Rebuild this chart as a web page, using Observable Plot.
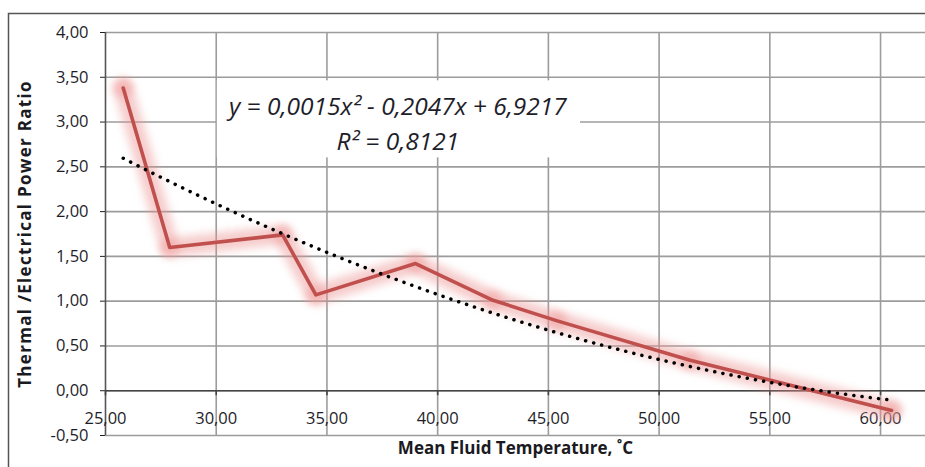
<!DOCTYPE html>
<html><head><meta charset="utf-8">
<script src="https://cdn.jsdelivr.net/npm/d3@7"></script>
<script src="https://cdn.jsdelivr.net/npm/@observablehq/plot@0.6"></script>
<style>
html,body{margin:0;padding:0;background:#fff;}
#chart{position:relative;width:925px;height:467px;overflow:hidden;}
</style>
</head><body><div id="chart"></div>
<script>
// ---- data ----
const temperature = [25.8, 27.9, 33.0, 34.5, 39.0, 42.5, 45.4, 51.4, 60.5];
const powerRatio  = [3.38, 1.60, 1.74, 1.07, 1.42, 1.01, 0.78, 0.34, -0.22];
const xTicks = [25, 30, 35, 40, 45, 50, 55, 60];
const yTicks = [-0.5, 0, 0.5, 1, 1.5, 2, 2.5, 3, 3.5, 4];
const xLabel = "Mean Fluid Temperature, ˚C";
const yLabel = "Thermal /Electrical Power Ratio";
const equationLines = ["y = 0,0015x² - 0,2047x + 6,9217", "R² = 0,8121"];

// annotation placement (data units)
const eqPos = {x: 38.2, y: 3.01};
const eqBox = {x1: 30.05, x2: 46.45, y1: 2.6, y2: 3.46};

const data = temperature.map((x, i) => ({x, y: powerRatio[i]}));

// second-order polynomial least-squares trendline (as the spreadsheet computes it)
function polyfit2(xs, ys) {
  const S = k => d3.sum(xs, x => Math.pow(x, k));
  const T = k => d3.sum(xs, (x, i) => Math.pow(x, k) * ys[i]);
  const A = [[S(0), S(1), S(2)], [S(1), S(2), S(3)], [S(2), S(3), S(4)]];
  const b = [T(0), T(1), T(2)];
  for (let i = 0; i < 3; i++) {
    for (let j = i + 1; j < 3; j++) {
      const f = A[j][i] / A[i][i];
      for (let k = i; k < 3; k++) A[j][k] -= f * A[i][k];
      b[j] -= f * b[i];
    }
  }
  const c = [0, 0, 0];
  for (let i = 2; i >= 0; i--) {
    let s = b[i];
    for (let k = i + 1; k < 3; k++) s -= A[i][k] * c[k];
    c[i] = s / A[i][i];
  }
  return c;
}
const coef = polyfit2(temperature, powerRatio);
const xmin = d3.min(temperature), xmax = d3.max(temperature);
const trend = d3.range(0, 201).map(i => {
  const x = xmin + (xmax - xmin) * i / 200;
  return {x, y: coef[0] + coef[1] * x + coef[2] * x * x};
});

const fmt = d => d.toFixed(2).replace(".", ",");

const svg = Plot.plot({
  width: 925,
  height: 467,
  marginLeft: 105,
  marginRight: 0,
  marginTop: 32,
  marginBottom: 32,
  style: {fontFamily: "'Open Sans', sans-serif", fontSize: "16.5px", color: "#1e1e2a", background: "transparent", overflow: "visible"},
  x: {domain: [25, 62.03], axis: null},
  y: {domain: [-0.5, 4], ticks: yTicks, tickFormat: fmt, tickSize: 5, tickPadding: 12, label: null},
  marks: [
    Plot.frame({stroke: "#555", strokeWidth: 1.5, insetLeft: -97, insetTop: -19, insetRight: -20, insetBottom: -80}),
    Plot.ruleY(yTicks, {stroke: "#9c9c9c", strokeWidth: 1.6}),
    Plot.ruleX(xTicks.slice(1), {stroke: "#9c9c9c", strokeWidth: 1.6}),
    Plot.ruleX([25], {stroke: "#555", strokeWidth: 1.6}),
    Plot.ruleY([0], {stroke: "#444", strokeWidth: 1.6}),
    Plot.ruleX(xTicks, {y1: 0, y2: 0, insetBottom: -5, stroke: "#444", strokeWidth: 1.6}),
    Plot.text(xTicks, {x: d => d, y: 0, dy: 28, text: fmt, fontSize: 16.5, fill: "#1e1e2a"}),
    Plot.rect([eqBox], {x1: "x1", x2: "x2", y1: "y1", y2: "y2", fill: "#fff"}),
    Plot.text([equationLines.join("\n")], {x: eqPos.x, y: eqPos.y, fontStyle: "italic", fontSize: 24.5, lineHeight: 1.43, fill: "#1e1e2a"}),
    // glow
    Plot.line(data, {x: "x", y: "y", stroke: "#eb8f8d", strokeWidth: 19, strokeOpacity: 0.45, strokeLinejoin: "round"}),
    Plot.dot(data, {x: "x", y: "y", r: 10, fill: "#ef9c9a", fillOpacity: 0.45}),
    // series
    Plot.line(data, {x: "x", y: "y", stroke: "#c0504d", strokeWidth: 3.6, strokeLinejoin: "round"}),
    // trendline
    Plot.line(trend, {x: "x", y: "y", stroke: "#000", strokeWidth: 3.5, strokeDasharray: "0.1 8.2", strokeLinecap: "round"}),
    // axis titles
    Plot.text([xLabel], {frameAnchor: "bottom", dy: 18, fontWeight: "bold", fontSize: 17, fill: "#1a1a22"}),
    Plot.text([yLabel], {frameAnchor: "left", dx: -80, rotate: -90, textAnchor: "middle", fontWeight: "bold", fontSize: 17, fill: "#1a1a22"})
  ]
});

const lines = svg.querySelectorAll("g[aria-label='line']");
if (lines.length) lines[0].style.filter = "blur(4.5px)";
const dots = svg.querySelectorAll("g[aria-label='dot']");
if (dots.length) dots[0].style.filter = "blur(3.5px)";
const texts = svg.querySelectorAll("g[aria-label='text']");
if (texts.length) texts[texts.length - 1].style.letterSpacing = "1.3px";

document.getElementById("chart").appendChild(svg);
</script>
</body></html>
